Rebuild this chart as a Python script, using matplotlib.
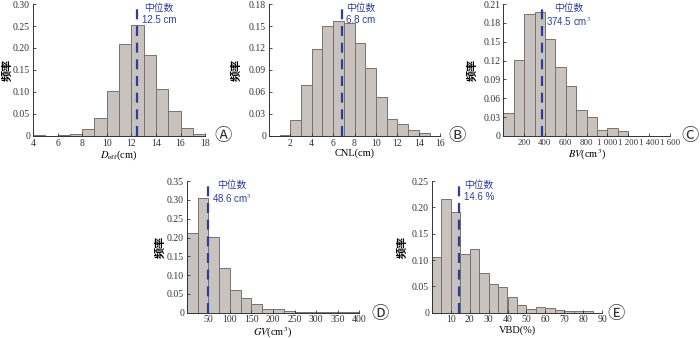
import matplotlib
matplotlib.use('Agg')
import matplotlib.pyplot as plt
import numpy as np
from matplotlib.ticker import FuncFormatter

plt.rcParams['font.family'] = ['Liberation Serif', 'Noto Sans CJK SC', 'DejaVu Sans']
plt.rcParams['mathtext.fontset'] = 'stix'

# histogram frequencies, one value per bin
deff_edges = np.arange(4, 19, 1)
deff_freq = [0.001, 0.0, 0.001, 0.004, 0.016, 0.040, 0.102, 0.208, 0.252,
             0.184, 0.106, 0.056, 0.017, 0.005]
deff_median = 12.5

cnl_edges = np.arange(1, 16, 1)
cnl_freq = [0.001, 0.022, 0.0695, 0.1186, 0.150, 0.157, 0.1536, 0.127,
            0.093, 0.053, 0.023, 0.016, 0.008, 0.0036]
cnl_median = 6.8

bv_edges = np.arange(0, 1700, 100)
bv_freq = [0.0366, 0.121, 0.1935, 0.197, 0.155, 0.109, 0.079, 0.041, 0.030,
           0.010, 0.0127, 0.008, 0.0005, 0.0003, 0.0003, 0.0003]
bv_median = 374.5

gv_edges = np.arange(0, 425, 25)
gv_freq = [0.212, 0.304, 0.2016, 0.120, 0.061, 0.038, 0.022, 0.011, 0.011,
           0.0035, 0.001, 0.003, 0.0005, 0.001, 0.001, 0.0025]
gv_median = 48.6

vbd_edges = np.arange(0, 90, 5)
vbd_freq = [0.105, 0.2165, 0.1905, 0.112, 0.121, 0.0757, 0.054, 0.048,
            0.029, 0.014, 0.0068, 0.0099, 0.0087, 0.005, 0.0025, 0.0025, 0.0025]
vbd_median = 14.6

BAR_FACE = '#c9c3bf'
BAR_EDGE = '#77726f'
MED_COLOR = '#2f3c9c'


def yfmt(v, pos):
    return '0' if abs(v) < 1e-9 else f'{v:.2f}'


def thousands(v, pos):
    return f'{int(v):,}'.replace(',', ' ')


def panel(fig, rect, edges, freq, median, med_text, xlim, xticks, yticks,
          xlabel, letter, letter_xy, ylab_x, xfmt=None, xtick_size=7):
    ax = fig.add_axes(rect)
    edges = np.asarray(edges, dtype=float)
    ax.bar(edges[:-1], freq, width=np.diff(edges), align='edge',
           color=BAR_FACE, edgecolor=BAR_EDGE, linewidth=0.7)
    ymax = yticks[-1]
    ax.plot([median, median], [0, ymax * 0.985], color=MED_COLOR, lw=1.6,
            ls=(0, (4.5, 3.0)))
    ax.annotate('中位数\n' + med_text, xy=(median, 1.01),
                xycoords=('data', 'axes fraction'), xytext=(3, 0),
                textcoords='offset points', ha='left', va='top',
                multialignment='center', color=MED_COLOR, fontsize=7,
                family=['Liberation Sans', 'Noto Sans CJK SC'],
                linespacing=1.25)
    ax.set_xlim(*xlim)
    ax.set_ylim(0, ymax)
    ax.set_xticks(xticks)
    ax.set_yticks(yticks)
    ax.yaxis.set_major_formatter(FuncFormatter(yfmt))
    if xfmt is not None:
        ax.xaxis.set_major_formatter(FuncFormatter(xfmt))
    for s in ('top', 'right'):
        ax.spines[s].set_visible(False)
    for s in ('left', 'bottom'):
        ax.spines[s].set_linewidth(0.7)
        ax.spines[s].set_color('#333333')
    ax.tick_params(direction='in', length=2.5, width=0.6, labelsize=7,
                   pad=2, colors='#333333')
    ax.tick_params(axis='x', labelsize=xtick_size)
    ax.set_xlabel(xlabel, fontsize=7.5, labelpad=0.5)
    ax.set_ylabel('频率', fontsize=8, fontweight='bold',
                  family=['Noto Sans CJK SC'])
    ax.yaxis.set_label_coords(ylab_x, 0.5)
    fig.text(letter_xy[0], letter_xy[1], letter, fontsize=12.5,
             family=['Noto Sans CJK SC', 'DejaVu Sans'],
             ha='center', va='center', color='#333333')
    return ax


fig = plt.figure(figsize=(7.0, 3.38), dpi=100)

panel(fig, [0.047, 0.598, 0.246, 0.390], deff_edges, deff_freq, deff_median,
      '12.5 cm', (4, 18), np.arange(4, 19, 2), np.arange(0, 0.301, 0.05),
      r'$D_{\mathrm{eff}}$(cm)', '\u24B6', (0.318, 0.597), -0.11)

panel(fig, [0.384, 0.598, 0.245, 0.390], cnl_edges, cnl_freq, cnl_median,
      '6.8 cm', (0, 16), np.arange(2, 17, 2), np.arange(0, 0.181, 0.03),
      'CNL(cm)', '\u24B7', (0.653, 0.597), -0.155)

panel(fig, [0.719, 0.598, 0.238, 0.390], bv_edges, bv_freq, bv_median,
      '374.5 cm$^3$', (0, 1600), np.arange(200, 1601, 200),
      np.arange(0, 0.211, 0.03), r'$BV$(cm$^3$)', '\u24B8', (0.986, 0.597),
      -0.145, xfmt=thousands, xtick_size=6.3)

panel(fig, [0.267, 0.075, 0.246, 0.389], gv_edges, gv_freq, gv_median,
      '48.6 cm$^3$', (0, 400), np.arange(50, 401, 50),
      np.arange(0, 0.351, 0.05), r'$GV$(cm$^3$)', '\u24B9', (0.543, 0.072),
      -0.12)

panel(fig, [0.617, 0.075, 0.243, 0.389], vbd_edges, vbd_freq, vbd_median,
      '14.6 %', (0, 90), np.arange(10, 91, 10), np.arange(0, 0.251, 0.05),
      'VBD(%)', '\u24BA', (0.88, 0.072), -0.135)

fig.savefig('out.png', dpi=100)
